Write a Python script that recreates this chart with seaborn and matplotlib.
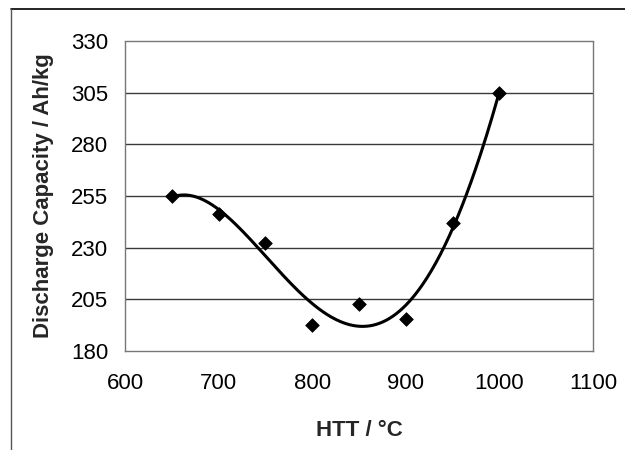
import numpy as np
import pandas as pd
import matplotlib
matplotlib.use("Agg")
import matplotlib.pyplot as plt
import seaborn as sns

htt = [650, 700, 750, 800, 850, 900, 950, 1000]
capacity = [254.8, 246.2, 232.4, 192.6, 202.6, 195.3, 241.8, 305.0]
x_ticks = [600, 700, 800, 900, 1000, 1100]
y_ticks = [180, 205, 230, 255, 280, 305, 330]

sns.set_theme(style="white")
plt.rcParams['font.family'] = ['Liberation Sans', 'DejaVu Sans']

df = pd.DataFrame({"HTT": htt, "Cap": capacity})
coef = np.polyfit(df["HTT"] / 1000.0, df["Cap"], 4)
xs = np.linspace(min(htt), max(htt), 300)
trend = pd.DataFrame({"HTT": xs, "Cap": np.polyval(coef, xs / 1000.0)})

fig = plt.figure(figsize=(6.25, 4.5), dpi=100)
ax = fig.add_axes([125/625, 1-351/450, (593-125)/625, (351-41)/450])

for y in y_ticks[1:-1]:
    ax.axhline(y, color="#3a3a3a", lw=1.0, zorder=1)

sns.lineplot(data=trend, x="HTT", y="Cap", ax=ax, color="black", lw=2.2, zorder=3)
sns.scatterplot(data=df, x="HTT", y="Cap", ax=ax, marker="D", s=48, color="black",
                edgecolor="black", zorder=4)

ax.set_xlim(600, 1100)
ax.set_ylim(180, 330)
ax.set_xticks(x_ticks)
ax.set_yticks(y_ticks)
ax.tick_params(axis="y", direction="inout", length=10, pad=7, labelsize=16, colors="black", width=1)
ax.tick_params(axis="x", direction="out", length=5, pad=11, labelsize=16, colors="black", width=1)
for s in ax.spines.values():
    s.set_linestyle((0, (1, 1)))
    s.set_color("#777777")
    s.set_linewidth(1.0)
ax.set_xlabel("")
ax.set_ylabel("")
fig.text(359/625, 1-431/450, "HTT / °C", fontsize=16, fontweight="bold", ha="center", va="center")
fig.text(44/625, 1-196/450, "Discharge Capacity / Ah/kg", fontsize=16, fontweight="bold",
         ha="center", va="center", rotation=90)

fig.add_artist(plt.Line2D([11/625, 1.0], [1-9/450, 1-9/450], color="black", lw=1.2, transform=fig.transFigure))
fig.add_artist(plt.Line2D([11/625, 11/625], [0, 1-9/450], color="#555555", lw=1.0, transform=fig.transFigure))

fig.savefig("out.png", dpi=100)
